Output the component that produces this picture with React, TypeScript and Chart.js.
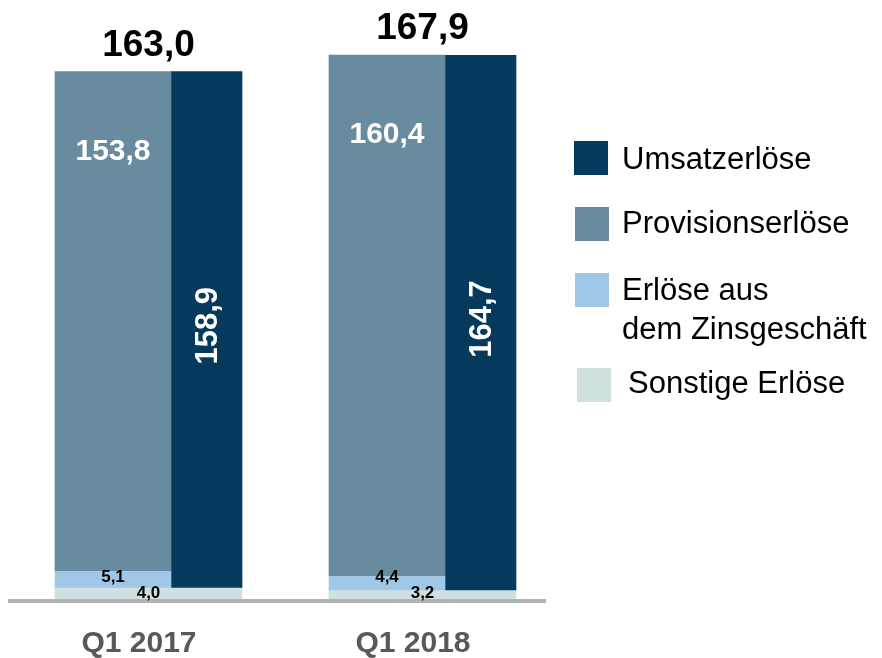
import React, { useEffect, useRef } from 'react';
import { Chart, registerables } from 'chart.js';

Chart.register(...registerables);

// ---- data ----
const periods = ['Q1 2017', 'Q1 2018'];
const umsatzerloese = [158.9, 164.7];
const provisionserloese = [153.8, 160.4];
const zinsErloese = [5.1, 4.4];
const sonstigeErloese = [4.0, 3.2];
const gesamtErloese = [163.0, 167.9];
const legendLabels = ['Umsatzerlöse', 'Provisionserlöse', 'Erlöse aus\ndem Zinsgeschäft', 'Sonstige Erlöse'];

const COLORS = {
  umsatz: '#053a5c',
  provision: '#688ba0',
  zins: '#a0c8e6',
  sonstige: '#d0dfe0',
};
const FONT = '"Liberation Sans", Arial, Helvetica, sans-serif';
const fmt = (v: number) => v.toFixed(1).replace('.', ',');
const toXY = (arr: number[]) => arr.map((y, i) => ({ x: i, y }));

const WIDE = 116;
const NARROW = 71;

const labelPlugin = {
  id: 'valueLabels',
  afterDraw(chart: any) {
    const ctx = chart.ctx;
    const bar = (d: number, i: number) =>
      chart.getDatasetMeta(d).data[i].getProps(['x', 'y', 'base', 'width'], true);
    periods.forEach((_, i) => {
      const sL = bar(0, i);
      const zi = bar(1, i);
      const pr = bar(2, i);
      const sR = bar(3, i);
      const um = bar(4, i);
      const left = sL.x - sL.width / 2;
      const right = sR.x + sR.width / 2;
      const center = (left + right) / 2;
      const top = Math.min(pr.y, um.y);
      ctx.save();
      ctx.textAlign = 'center';
      // totals
      ctx.fillStyle = '#000';
      ctx.textBaseline = 'alphabetic';
      ctx.font = `bold 37px ${FONT}`;
      ctx.fillText(fmt(gesamtErloese[i]), center, top - 16);
      // provision
      ctx.fillStyle = '#fff';
      ctx.textBaseline = 'middle';
      ctx.font = `bold 30px ${FONT}`;
      ctx.fillText(fmt(provisionserloese[i]), pr.x, pr.y + 80);
      // umsatz (vertical)
      ctx.save();
      ctx.translate(um.x + 2, (um.y + um.base) / 2 - 4);
      ctx.rotate(-Math.PI / 2);
      ctx.font = `bold 31px ${FONT}`;
      ctx.fillText(fmt(umsatzerloese[i]), 0, 0);
      ctx.restore();
      // small segments
      ctx.fillStyle = '#000';
      ctx.font = `bold 17px ${FONT}`;
      const sy = Math.min((sL.y + sL.base) / 2, sL.base - 8);
      ctx.fillText(fmt(sonstigeErloese[i]), center, sy);
      const zy = Math.min((zi.y + zi.base) / 2, sy - 16);
      ctx.fillText(fmt(zinsErloese[i]), zi.x, zy);
      ctx.restore();
    });
  },
};

const legendPlugin = {
  id: 'sideLegend',
  afterDraw(chart: any) {
    const ctx = chart.ctx;
    const r = chart.chartArea.right;
    const items = [
      { color: COLORS.umsatz, text: legendLabels[0], sx: 29, sy: 141, tx: 77, ty: 169 },
      { color: COLORS.provision, text: legendLabels[1], sx: 30, sy: 207, tx: 77, ty: 233 },
      { color: COLORS.zins, text: legendLabels[2], sx: 30, sy: 273, tx: 77, ty: 300 },
      { color: COLORS.sonstige, text: legendLabels[3], sx: 32, sy: 368, tx: 83, ty: 393 },
    ];
    ctx.save();
    ctx.font = `31px ${FONT}`;
    ctx.textAlign = 'left';
    ctx.textBaseline = 'alphabetic';
    items.forEach((it) => {
      ctx.fillStyle = it.color;
      ctx.fillRect(r + it.sx, it.sy, 34, 34);
      ctx.fillStyle = '#000';
      it.text.split('\n').forEach((line, k) => {
        ctx.fillText(line, r + it.tx, it.ty + k * 39);
      });
    });
    ctx.restore();
  },
};

export default function App() {
  const ref = useRef<HTMLCanvasElement | null>(null);

  useEffect(() => {
    if (!ref.current) return;
    const unit = 274;
    const chart = new Chart(ref.current, {
      type: 'bar',
      data: {
        datasets: [
          { label: 'Sonstige Erlöse', data: toXY(sonstigeErloese), backgroundColor: COLORS.sonstige, stack: 'links', barThickness: WIDE },
          { label: 'Erlöse aus dem Zinsgeschäft', data: toXY(zinsErloese), backgroundColor: COLORS.zins, stack: 'links', barThickness: WIDE },
          { label: 'Provisionserlöse', data: toXY(provisionserloese), backgroundColor: COLORS.provision, stack: 'links', barThickness: WIDE },
          { label: 'Sonstige Erlöse ', data: toXY(sonstigeErloese), backgroundColor: COLORS.sonstige, stack: 'rechts', barThickness: NARROW },
          { label: 'Umsatzerlöse', data: toXY(umsatzerloese), backgroundColor: COLORS.umsatz, stack: 'rechts', barThickness: NARROW },
        ],
      },
      options: {
        animation: false,
        responsive: true,
        maintainAspectRatio: false,
        layout: { padding: { left: 10, right: 337, top: 16, bottom: 0 } },
        plugins: {
          legend: { display: false },
          tooltip: { enabled: false },
        },
        scales: {
          x: {
            type: 'linear',
            offset: false,
            min: -161 / unit,
            max: 1 + 100 / unit,
            grid: { display: false, drawTicks: false },
            border: { display: true, color: '#b3b3b3', width: 4, z: 1 },
            afterBuildTicks: (scale: any) => {
              scale.ticks = periods.map((_, i) => ({ value: i }));
            },
            afterFit: (scale: any) => {
              scale.height = 57;
            },
            ticks: {
              autoSkip: false,
              maxRotation: 0,
              padding: 28,
              labelOffset: -32,
              color: '#595959',
              font: { family: FONT, size: 30, weight: 'bold', lineHeight: 1 },
              callback: (_v: any, idx: number) => periods[idx],
            },
          },
          y: {
            display: false,
            stacked: true,
            min: 0,
            max: 180,
          },
        },
      },
      plugins: [labelPlugin, legendPlugin],
    } as any);
    return () => chart.destroy();
  }, []);

  return (
    <div style={{ position: 'fixed', left: 0, top: 0, width: 882, height: 658, background: '#fff' }}>
      <canvas ref={ref} />
    </div>
  );
}
